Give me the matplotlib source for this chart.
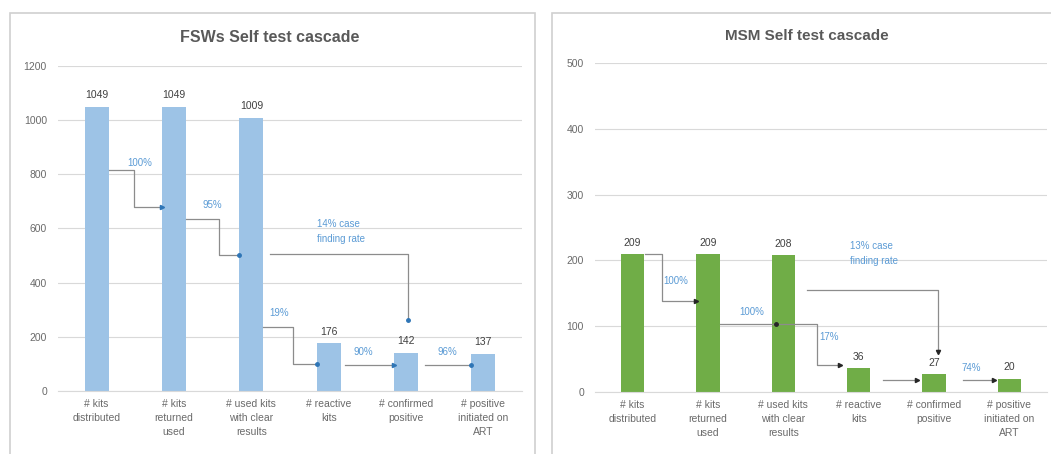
import numpy as np
import matplotlib.pyplot as plt
from matplotlib.patches import Rectangle

# dados
categorias = ['# kits\ndistributed', '# kits\nreturned\nused', '# used kits\nwith clear\nresults',
              '# reactive\nkits', '# confirmed\npositive', '# positive\ninitiated on\nART']
fsw_valores = [1049, 1049, 1009, 176, 142, 137]
msm_valores = [209, 209, 208, 36, 27, 20]
fsw_pct = ['100%', '95%', '19%', '90%', '96%']
msm_pct = ['100%', '100%', '17%', '', '74%']
fsw_caso = '14% case\nfinding rate'
msm_caso = '13% case\nfinding rate'

AZUL = '#9dc3e6'
VERDE = '#70ad47'
TXT_AZUL = '#5b9bd5'
CINZA = '#595959'
LINHA = '#8c8c8c'

plt.rcParams['font.family'] = ['Liberation Sans', 'DejaVu Sans']

fig = plt.figure(figsize=(10.51, 4.54), dpi=100)

# molduras dos paineis
for x0, w in [(10, 525), (552, 510)]:
    fig.patches.append(Rectangle((x0 / 1051, -0.05), w / 1051, (454 - 13) / 454 + 0.05,
                                 transform=fig.transFigure, fill=False,
                                 edgecolor='#d0d0d0', linewidth=1.2))


def montar_eixo(ax, valores, cor, ymax, passo):
    x = np.arange(len(valores))
    ax.bar(x, valores, width=0.31, color=cor, zorder=2)
    ax.set_xlim(-0.5, len(valores) - 0.5)
    ax.set_ylim(0, ymax)
    ax.set_yticks(np.arange(0, ymax + 1, passo))
    ax.set_xticks(x)
    ax.set_xticklabels(categorias, fontsize=7.5, color=CINZA, linespacing=1.45)
    ax.tick_params(axis='both', length=0, colors='#6a6a6a', labelsize=7.5, pad=8)
    ax.tick_params(axis='x', pad=6)
    ax.grid(axis='y', color='#d9d9d9', linewidth=0.8, zorder=0)
    for s in ['top', 'right', 'left']:
        ax.spines[s].set_visible(False)
    ax.spines['bottom'].set_color('#d9d9d9')
    for xi, v in zip(x, valores):
        ax.text(xi, v + ymax * 0.02, str(v), ha='center', va='bottom', fontsize=7.5, color='#404040')


def cotovelo(ax, pts, cor_seta, marcador='>', tam=3):
    xs, ys = zip(*pts)
    ax.plot(xs, ys, color=LINHA, linewidth=0.9, zorder=3)
    ax.plot(xs[-1], ys[-1], marker=marcador, markersize=tam, color=cor_seta, zorder=4)


# FSW
ax1 = fig.add_axes([58 / 1051, 63 / 454, 464 / 1051, 325 / 454])
montar_eixo(ax1, fsw_valores, AZUL, 1200, 200)
b = 0.155
AZ_SETA = '#2e75b6'
cotovelo(ax1, [(b, 816), (0.48, 816), (0.48, 680), (1 - b, 680)], AZ_SETA)
cotovelo(ax1, [(1 + b, 635), (1.58, 635), (1.58, 502), (2 - b, 502)], AZ_SETA, 'o', 2.5)
cotovelo(ax1, [(2.24, 506), (4.03, 506), (4.03, 262)], AZ_SETA, 'o', 2.5)
cotovelo(ax1, [(2 + b, 236), (2.54, 236), (2.54, 100), (3 - b, 100)], AZ_SETA, 'o', 2.5)
cotovelo(ax1, [(3.21, 96), (4 - b, 96)], AZ_SETA)
cotovelo(ax1, [(4.25, 96), (5 - b, 96)], AZ_SETA, 'o', 2.5)
for (px, py), t in zip([(0.56, 842), (1.49, 685), (2.36, 288), (3.45, 144), (4.54, 144)], fsw_pct):
    ax1.text(px, py, t, ha='center', va='center', fontsize=7, color=TXT_AZUL)
ax1.text(2.85, 590, fsw_caso, ha='left', va='center', fontsize=7, color=TXT_AZUL, linespacing=1.6)
fig.text(270 / 1051, 1 - 38 / 454, 'FSWs Self test cascade', ha='center', va='center',
         fontsize=11.5, fontweight='bold', color=CINZA)

# MSM
ax2 = fig.add_axes([595 / 1051, 62 / 454, 452 / 1051, 329 / 454])
montar_eixo(ax2, msm_valores, VERDE, 500, 100)
b = 0.16
PRETO = '#262626'
cotovelo(ax2, [(b, 210), (0.385, 210), (0.385, 138), (1 - b, 138)], PRETO)
cotovelo(ax2, [(1 + b, 103), (2.45, 103), (2.45, 41), (2.75, 41)], PRETO)
ax2.plot(1.9, 103, marker='o', markersize=2.5, color=PRETO, zorder=4)
cotovelo(ax2, [(2.31, 155), (4.05, 155), (4.05, 61)], PRETO, 'v')
cotovelo(ax2, [(3.32, 18), (3.78, 18)], PRETO)
cotovelo(ax2, [(4.38, 18), (4.8, 18)], PRETO)
for (px, py), t in zip([(0.57, 168), (1.58, 121), (2.61, 84), (0, 0), (4.5, 37)], msm_pct):
    if t:
        ax2.text(px, py, t, ha='center', va='center', fontsize=7, color=TXT_AZUL)
ax2.text(2.88, 210, msm_caso, ha='left', va='center', fontsize=7, color=TXT_AZUL, linespacing=1.6)
fig.text(807 / 1051, 1 - 36 / 454, 'MSM Self test cascade', ha='center', va='center',
         fontsize=11, fontweight='bold', color=CINZA)

plt.savefig('out.png', dpi=100)
